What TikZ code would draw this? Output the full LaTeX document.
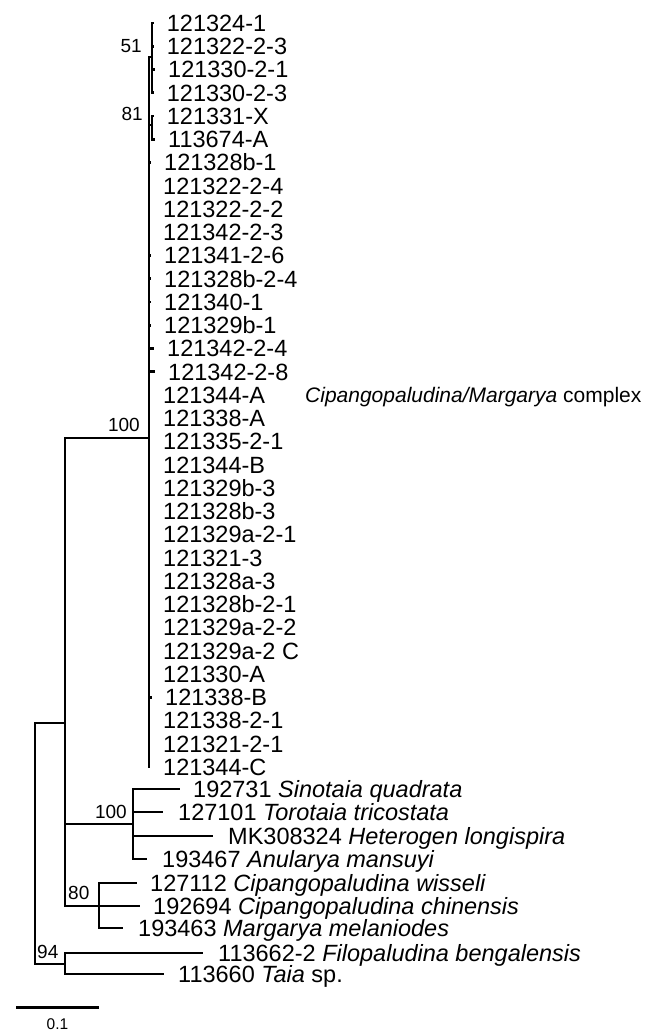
\documentclass[tikz,border=0pt]{standalone}
\usepackage{fontspec}
\setmainfont{Liberation Sans}
\begin{document}
\begin{tikzpicture}[x=1pt,y=-1pt,
  br/.style={line width=2.8pt, line join=miter},
  leaf/.style={anchor=base west, inner sep=0pt, font=\fontsize{23.5}{23.5}\selectfont},
  sup/.style={inner sep=0pt, font=\fontsize{19}{19}\selectfont},
  grp/.style={anchor=base west, inner sep=0pt, font=\fontsize{21}{21}\selectfont}]
\useasboundingbox (0,0) rectangle (653,1033);
% internal nodes
\coordinate (bc) at (149,438);
\coordinate (n51) at (152,57);
\coordinate (n81) at (152,125);
\coordinate (A) at (65,723);
\coordinate (R) at (35,843);
\coordinate (n100) at (133,824);
\coordinate (n80) at (99,906);
\coordinate (n94) at (65,964);
% leaves of the big clade
\foreach \i/\lx/\txt in {1/166.7/121324-1, 2/166.7/121322-2-3, 3/168/121330-2-1, 4/166.7/121330-2-3,
  5/166.7/121331-X, 6/168/113674-A, 7/164/121328b-1, 8/163/121322-2-4, 9/163/121322-2-2,
  10/163/121342-2-3, 11/164/121341-2-6, 12/164/121328b-2-4, 13/164/121340-1, 14/164/121329b-1,
  15/167/121342-2-4, 16/168/121342-2-8, 17/163/121344-A, 18/163/121338-A, 19/163/121335-2-1,
  20/163/121344-B, 21/163/121329b-3, 22/163/121328b-3, 23/163/121329a-2-1, 24/163/121321-3,
  25/163/121328a-3, 26/163/121328b-2-1, 27/163/121329a-2-2, 28/163/121329a-2 C, 29/163/121330-A,
  30/165/121338-B, 31/163/121338-2-1, 32/163/121321-2-1, 33/163/121344-C}{
  \pgfmathsetmacro\yy{23+(\i-1)*23.25}
  \coordinate (t\i) at (\lx-13,\yy);
  \node[leaf] (l\i) at (\lx,\yy+8.3) {\txt};
}
\foreach \i in {1,...,4} \draw[br] (n51) |- (t\i);
\foreach \i in {5,6} \draw[br] (n81) |- (t\i);
\foreach \i in {7,...,33} \draw[br] (bc) |- (t\i);
\draw[br] (bc) |- (n51);
\draw[br] (bc) |- (n81);
% other tips
\coordinate (s1) at (180,789);
\coordinate (s2) at (163,812);
\coordinate (s3) at (213,836);
\coordinate (s4) at (147,859);
\coordinate (c1) at (137,883);
\coordinate (c2) at (140,906);
\coordinate (c3) at (123,928);
\coordinate (f1) at (203,953);
\coordinate (f2) at (164,974);
\node[leaf] (ls1) at (193,797.3) {192731 \textit{Sinotaia quadrata}};
\node[leaf] (ls2) at (178,820.3) {127101 \textit{Torotaia tricostata}};
\node[leaf] (ls3) at (228,844.3) {MK308324 \textit{Heterogen longispira}};
\node[leaf] (ls4) at (162,867.3) {193467 \textit{Anularya mansuyi}};
\node[leaf] (lc1) at (150,891.3) {127112 \textit{Cipangopaludina wisseli}};
\node[leaf] (lc2) at (153,914.3) {192694 \textit{Cipangopaludina chinensis}};
\node[leaf] (lc3) at (138,936.3) {193463 \textit{Margarya melaniodes}};
\node[leaf] (lf1) at (218,961.3) {113662-2 \textit{Filopaludina bengalensis}};
\node[leaf] (lf2) at (178,982.3) {113660 \textit{Taia} sp.};
% edges
\foreach \c in {s1,s2,s3,s4} \draw[br] (n100) |- (\c);
\foreach \c in {c1,c2,c3} \draw[br] (n80) |- (\c);
\foreach \c in {f1,f2} \draw[br] (n94) |- (\c);
\draw[br] (A) |- (bc);
\draw[br] (A) |- (n100);
\draw[br] (A) |- (n80);
\draw[br] (R) |- (A);
\draw[br] (R) |- (n94);
% support values
\node[sup, anchor=base east] (b51) at (142,52.8) {51};
\node[sup, anchor=base east] (b81) at (143,120.8) {81};
\node[sup, anchor=base east] (b100a) at (140,431.8) {100};
\node[sup, anchor=base east] (b100b) at (127,818.8) {100};
\node[sup, anchor=base west] (b80) at (68,899.8) {80};
\node[sup, anchor=base west] (b94) at (37,958.8) {94};
% group label
\node[grp] (grp) at (305,402.5) {\textit{Cipangopaludina/Margarya} complex};
% scale bar
\coordinate (sb1) at (16,1007);
\coordinate (sb2) at (99,1007);
\draw[line width=3pt] (sb1) -- (sb2);
\node[inner sep=0pt, anchor=base, font=\fontsize{15.5}{15.5}\selectfont] (sbl) at (57.5,1029.5) {0.1};
\end{tikzpicture}
\end{document}
